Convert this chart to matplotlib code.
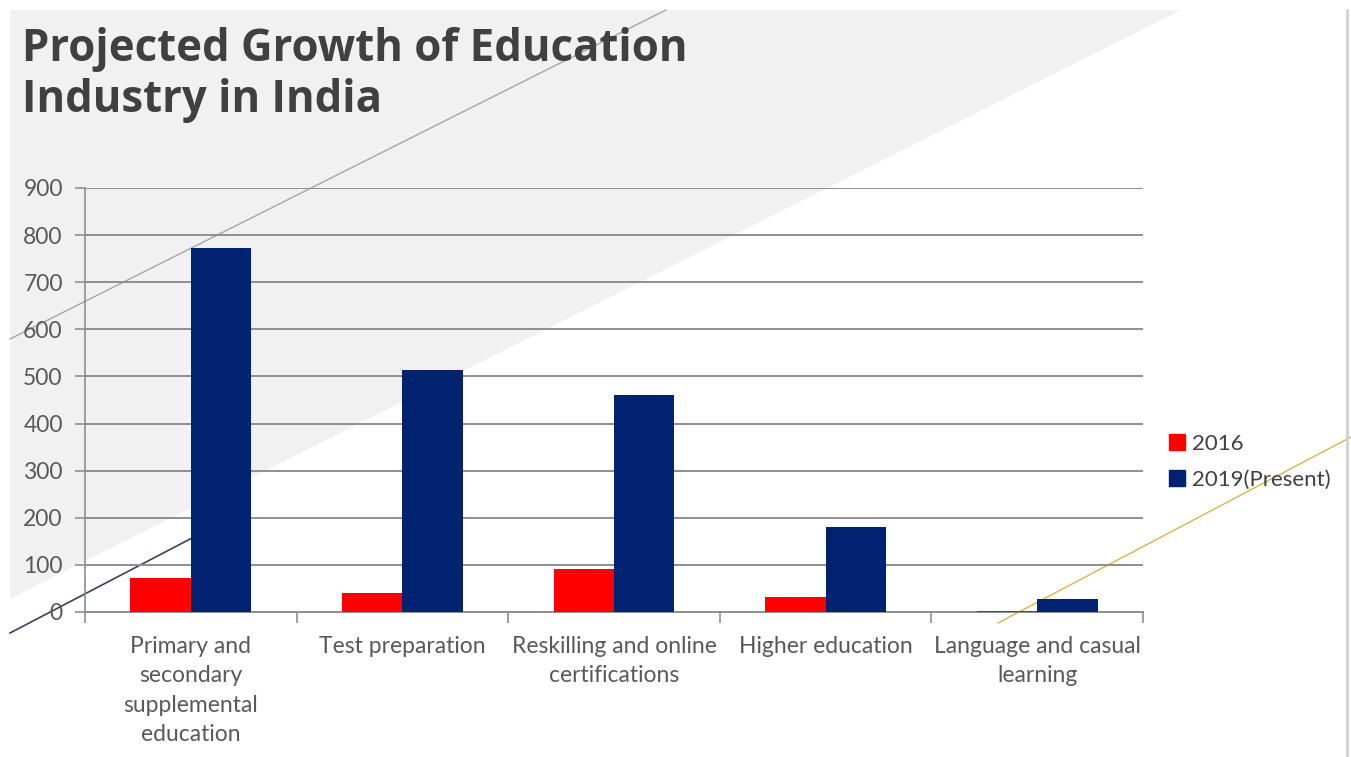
import matplotlib.pyplot as plt
from matplotlib.patches import Polygon
from matplotlib.lines import Line2D
import numpy as np

categories = ["Primary and\nsecondary\nsupplemental\neducation",
              "Test preparation",
              "Reskilling and online\ncertifications",
              "Higher education",
              "Language and casual\nlearning"]
values_2016 = [72, 40, 91, 32, 3]
values_2019 = [773, 514, 461, 181, 27]
series_names = ["2016", "2019(Present)"]
yticks = [0, 100, 200, 300, 400, 500, 600, 700, 800, 900]

W, H = 1351, 757
fig = plt.figure(figsize=(W / 100, H / 100), dpi=100)
fig.patch.set_facecolor("white")

# slide decoration, in pixel coordinates
bg = fig.add_axes([0, 0, 1, 1])
bg.set_xlim(0, W)
bg.set_ylim(H, 0)
bg.axis("off")
bg.add_patch(Polygon([[10, 10], [1181, 10], [10, 599]], closed=True,
                     facecolor="#f1f1f1", edgecolor="none"))
bg.plot([10, 666], [339, 10], color="#a6a6a6", lw=1)
bg.plot([10, 192], [633, 538], color="#34435e", lw=1.2)
bg.plot([998, 1351], [623, 437], color="#d8b64a", lw=1)
bg.plot([1347, 1347], [10, 757], color="#d0d0d0", lw=2)

# title
fig.text(22 / W, 1 - 61 / H, "Projected Growth of Education",
         fontsize=31.5, fontweight="bold", family="Open Sans", color="#404040",
         va="baseline", ha="left")
fig.text(22 / W, 1 - 112 / H, "Industry in India",
         fontsize=31.5, fontweight="bold", family="Open Sans", color="#404040",
         va="baseline", ha="left")

# chart
ax = fig.add_axes([85 / W, (H - 612) / H, (1143 - 85) / W, (612 - 188) / H])
ax.patch.set_alpha(0)
x = np.arange(len(categories))
bw = 0.285
ax.bar(x - bw / 2, values_2016, bw, color="#ff0000", label=series_names[0], zorder=3)
ax.bar(x + bw / 2, values_2019, bw, color="#002270", label=series_names[1], zorder=3)

ax.set_xlim(-0.5, len(categories) - 0.5)
ax.set_ylim(0, 900)
ax.set_yticks(yticks)
ax.yaxis.grid(True, color="#8f8f8f", lw=1.4, zorder=0)
ax.set_axisbelow(True)

ax.set_xticks(x)
ax.set_xticklabels(categories, family="Lato", fontsize=16.5, color="#595959",
                   linespacing=1.5, va="top")
ax.tick_params(axis="x", length=0, pad=17)
ax.set_xticks(np.arange(-0.5, len(categories)), minor=True)
ax.tick_params(axis="x", which="minor", length=8, color="#8f8f8f", width=1.2)
ax.tick_params(axis="y", length=7, color="#8f8f8f", width=1.2, pad=9,
               labelsize=16.5, labelcolor="#595959")
for lab in ax.get_yticklabels():
    lab.set_family("Lato")

for s in ["top", "right"]:
    ax.spines[s].set_visible(False)
ax.spines["left"].set_color("#8f8f8f")
ax.spines["bottom"].set_color("#8f8f8f")
ax.spines["left"].set_linewidth(1.2)
ax.spines["bottom"].set_linewidth(1.4)

handles = [Line2D([], [], marker="s", ls="", color="#ff0000", markersize=11),
           Line2D([], [], marker="s", ls="", color="#002270", markersize=11)]
fig.legend(handles, series_names, loc="upper left",
           bbox_to_anchor=(1144 / W, 1 - 414 / H), frameon=False,
           prop={"family": "Lato", "size": 16}, labelcolor="#404040",
           handletextpad=0.05, handlelength=1.2, labelspacing=0.7)

fig.savefig("out.png", dpi=100)
